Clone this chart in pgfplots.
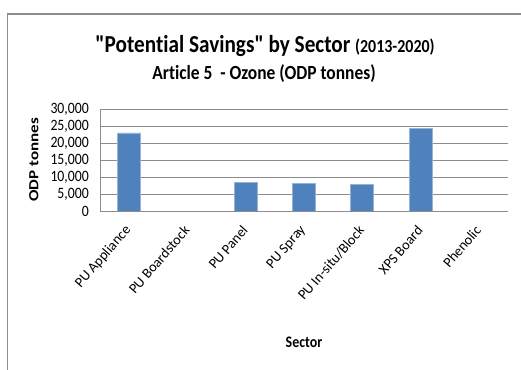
\documentclass[border=0pt]{standalone}
\usepackage{fontspec}
\setmainfont{Carlito}[Ligatures={TeXOff,NoCommon}]
\usepackage{pgfplots}
\pgfplotsset{compat=1.18}
\definecolor{barblue}{HTML}{4F81BD}
\definecolor{gridgray}{HTML}{8C8C8C}
\begin{document}
\begin{tikzpicture}
\path[use as bounding box] (0bp,0bp) rectangle (521bp,370bp);
\draw[gridgray, line width=1.2bp] (7.5bp,0bp) -- (7.5bp,356bp) -- (521bp,356bp);
\node[font=\bfseries\fontsize{21.3}{24}\selectfont] at (265bp,324bp) {\scalebox{1}[1.15]{"Potential Savings" by Sector {\fontsize{16}{19}\selectfont (2013-2020)}}};
\node[font=\bfseries\fontsize{17.5}{20}\selectfont] at (264bp,296bp) {\scalebox{1}[1.15]{Article 5\ \ - Ozone (ODP tonnes)}};
\begin{axis}[
  at={(100bp,159bp)}, anchor=south west,
  scale only axis, width=408bp, height=102bp,
  xmin=-0.5, xmax=6.5, ymin=0, ymax=30000,
  xtick={0,1,2,3,4,5,6},
  xticklabels={PU Appliance, PU Boardstock, PU Panel, PU Spray, PU In-situ/Block, XPS Board, Phenolic},
  ytick={0,5000,10000,15000,20000,25000,30000},
  yticklabel={\scalebox{1}[1.15]{\pgfmathprintnumber{\tick}}},
  scaled y ticks=false,
  /pgf/number format/.cd, 1000 sep={,}, assume math mode=true, /pgfplots/.cd,
  ymajorgrids, grid style={gridgray, line width=0.8bp},
  major tick length=0pt,
  axis x line*=bottom, axis y line*=left,
  axis line style={gridgray, line width=0.8bp, -},
  tick label style={font=\fontsize{13.8}{16}\selectfont},
  xticklabel style={rotate=49, anchor=east, inner sep=1bp, font=\fontsize{14.3}{16}\selectfont},
  xticklabel shift=16bp,
  yticklabel style={inner sep=1bp},
  yticklabel shift=10bp,
  ylabel={\scalebox{1.22}[1]{ODP tonnes}},
  ylabel style={font=\bfseries\fontsize{14}{16}\selectfont, at={(axis description cs:-0.162,0.5)}, anchor=center},
  xlabel={\scalebox{1}[1.15]{Sector}},
  xlabel style={font=\bfseries\fontsize{14}{16}\selectfont, at={(axis description cs:0.5,-1.284)}, anchor=center},
]
\addplot[ybar, bar width=23bp, bar shift=0pt, fill=barblue, draw=barblue!60!white, line width=0.6bp]
  coordinates {(0,23000) (2,8500) (3,8200) (4,7900) (5,24200)};
\end{axis}
\end{tikzpicture}
\end{document}
